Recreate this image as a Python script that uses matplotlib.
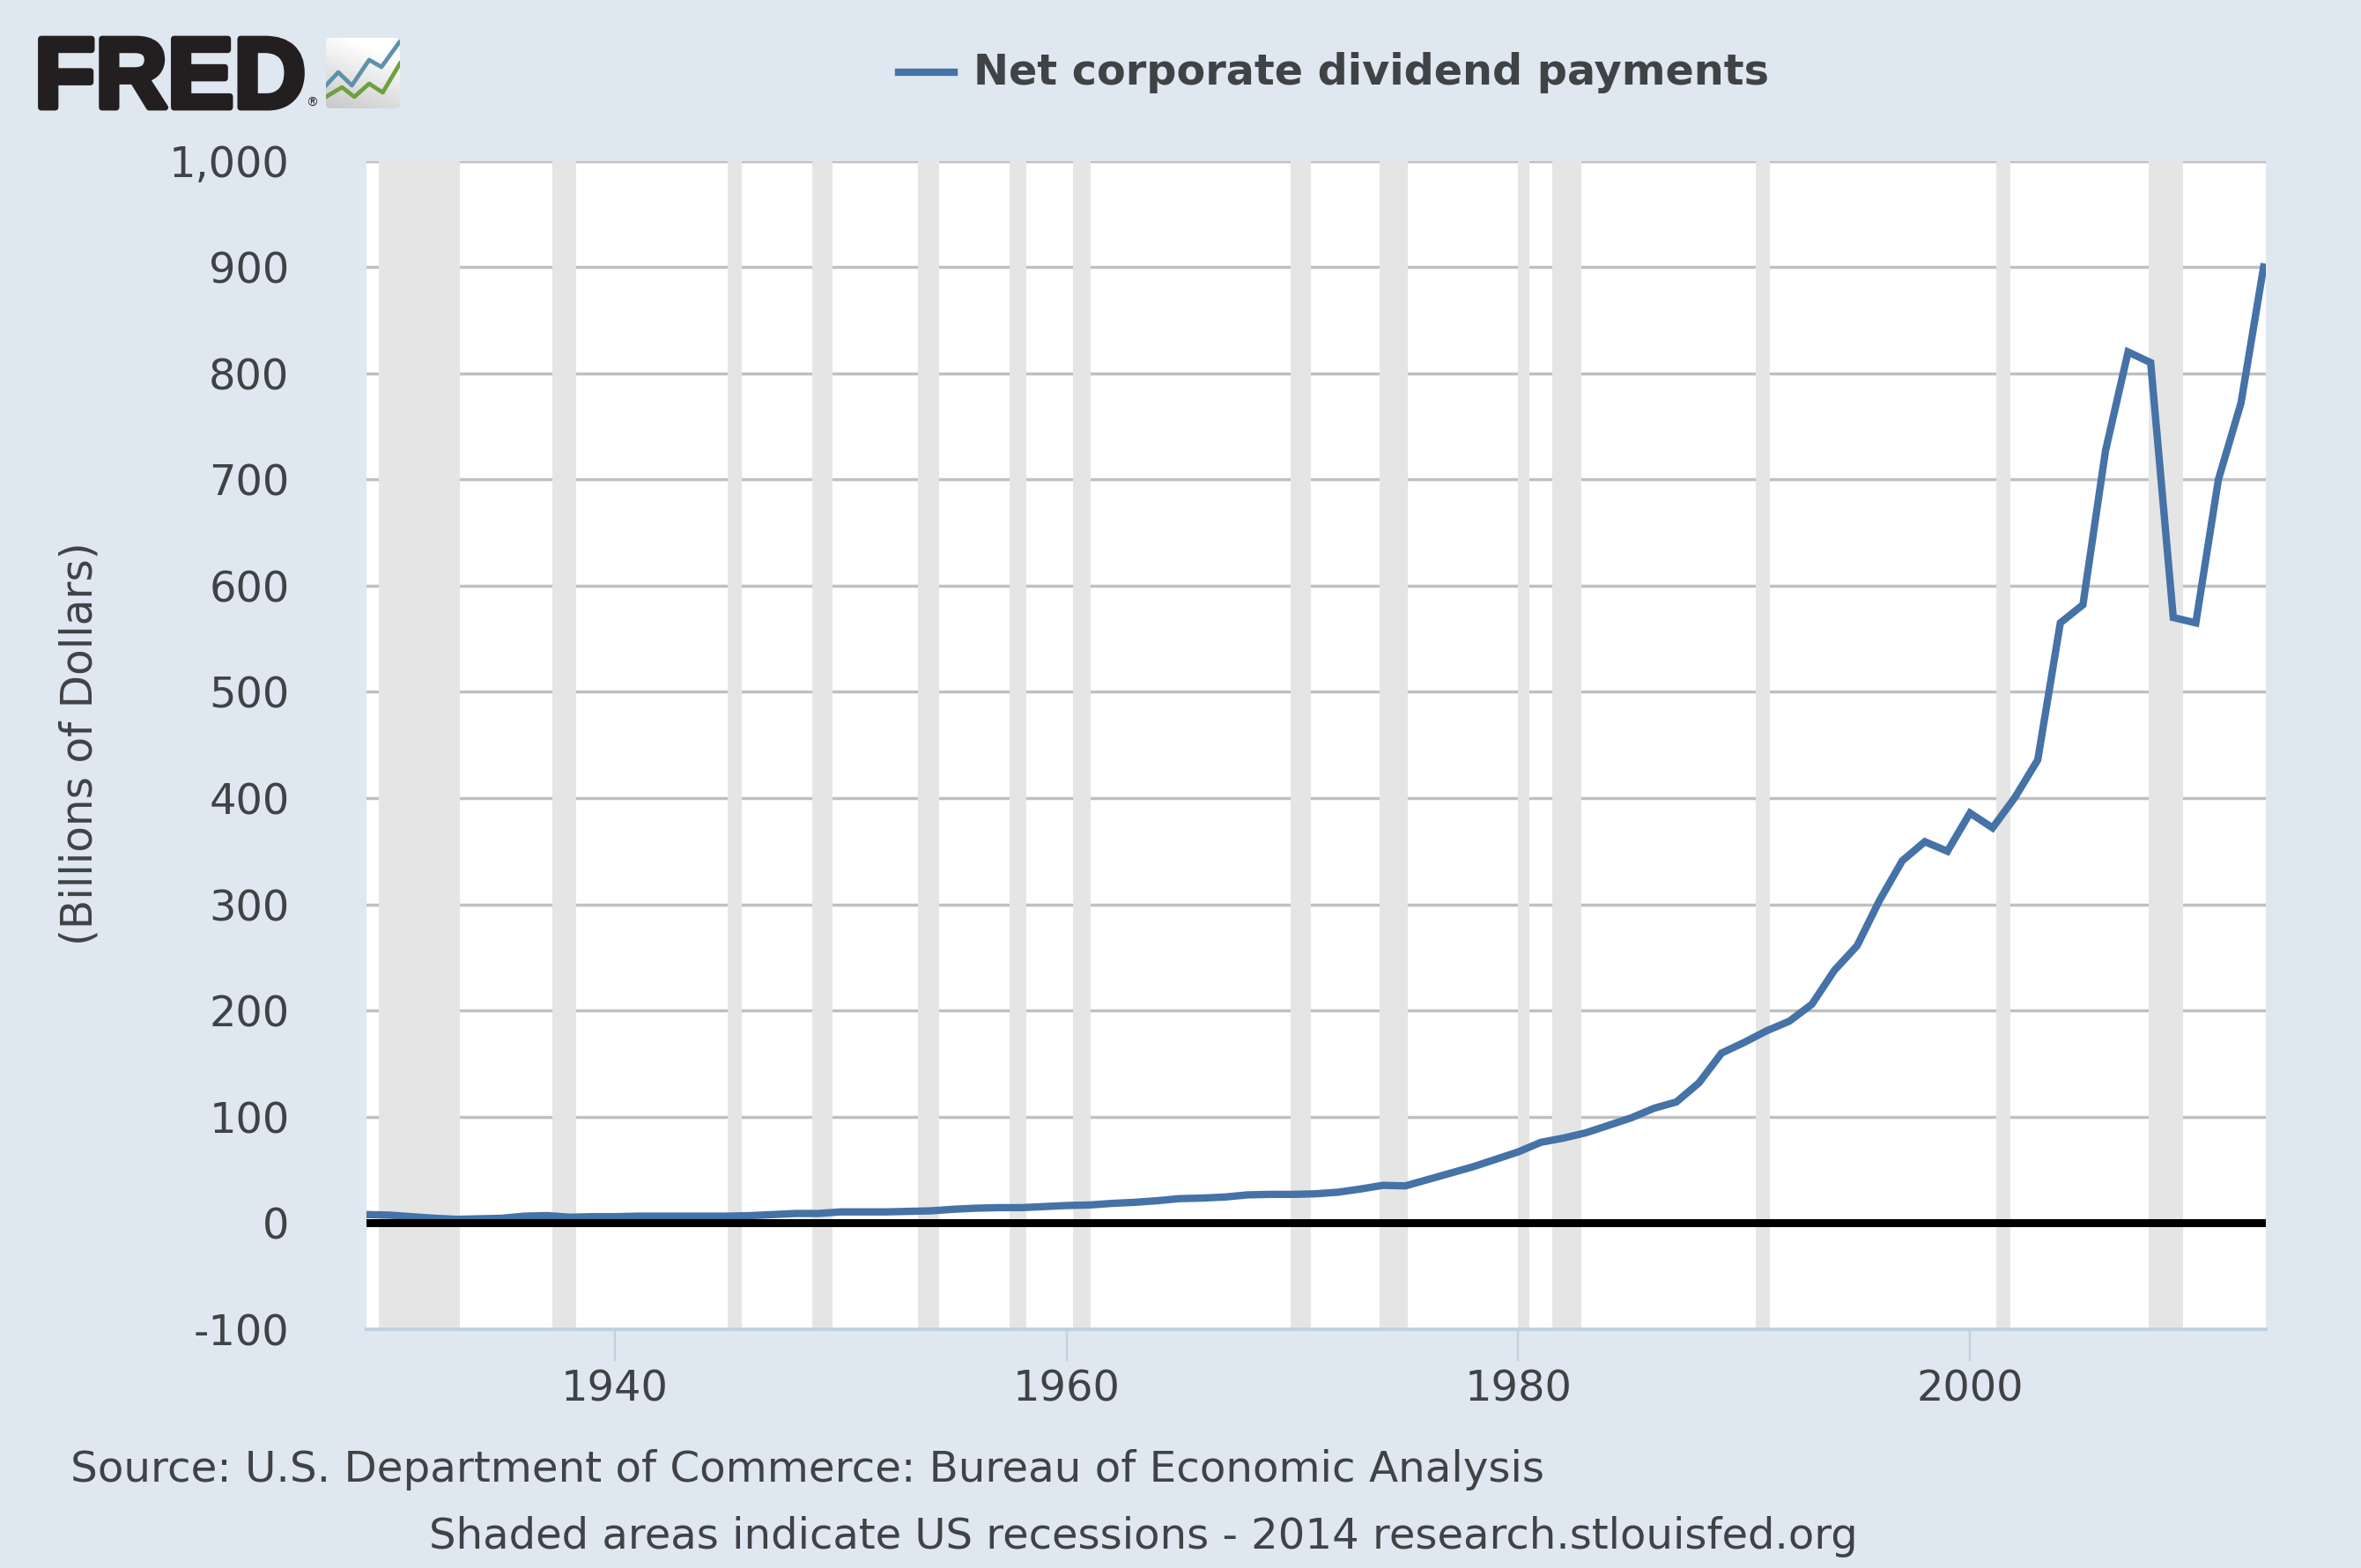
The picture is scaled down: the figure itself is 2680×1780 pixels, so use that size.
import matplotlib
matplotlib.use("Agg")
import matplotlib.pyplot as plt
import matplotlib.patheffects as pe
from matplotlib.patches import FancyBboxPatch
import numpy as np

# annual values (billions of dollars)
years = list(range(1929, 2014))
dividends = [8, 7.5, 6, 4.5, 3.5, 4, 4.5, 6.5, 7, 5.5,
             6, 6, 6.5, 6.5, 6.5, 6.5, 6.5, 7, 8, 9,
             9, 10.5, 10.5, 10.5, 11, 11.5, 13, 14, 14.5, 14.5,
             15.5, 16.5, 17, 18.5, 19.5, 21, 23, 23.5, 24.5, 26.5,
             27, 27, 27.5, 29, 32, 35.5, 35, 41, 47, 53,
             60, 67, 76, 80, 85, 92, 99, 108, 114, 132,
             160, 170, 181, 190, 206, 238, 261, 304, 341, 359,
             350, 386, 372, 401, 436, 565, 582, 727, 820, 810,
             570, 565, 700, 772, 900]

# recession start and end, as decimal years
rec_start = [1929.55, 1937.23, 1945.0, 1948.74, 1953.42, 1957.48, 1960.29,
             1969.93, 1973.85, 1980.0, 1981.5, 1990.5, 2001.18, 2007.9]
rec_end = [1933.14, 1938.29, 1945.62, 1949.64, 1954.36, 1958.22, 1961.07,
           1970.8, 1975.1, 1980.48, 1982.8, 1991.12, 2001.8, 2009.45]

y_ticks = [-100, 0, 100, 200, 300, 400, 500, 600, 700, 800, 900, 1000]
y_labels = ["-100", "0", "100", "200", "300", "400", "500", "600", "700", "800", "900", "1,000"]
x_ticks = [1940, 1960, 1980, 2000]

# shapes of the two lines in the logo icon
icon_blue_x = [0, 1, 2.1, 3.5, 4.5, 6]
icon_blue = [2.6, 4.1, 2.6, 5.5, 4.7, 7.6]
icon_green_x = [0, 1.3, 2.3, 3.5, 4.6, 6]
icon_green = [1.3, 2.4, 1.3, 2.8, 1.8, 5.1]

bg = "#dfe7f0"
text_col = "#404346"
W, H = 2680, 1780

fig = plt.figure(figsize=(26.8, 17.8), dpi=100, facecolor=bg)
left, right, top, bottom = 416, 2572, 182.5, 1509
ax = fig.add_axes([left / W, 1 - bottom / H, (right - left) / W, (bottom - top) / H])

for s, e in zip(rec_start, rec_end):
    ax.axvspan(s, e, color="#e5e5e5", lw=0, zorder=1)

ax.set_yticks(y_ticks)
ax.set_yticklabels(y_labels)
ax.grid(axis="y", color="#c0c0c0", lw=2.5, zorder=2)
ax.plot(years, dividends, color="#4572a7", lw=6, solid_joinstyle="miter", zorder=4)
ax.axhline(0, color="black", lw=6.5, zorder=5)

ax.set_xlim(1929, 2013.1)
ax.set_ylim(-100, 1000)
ax.set_xticks(x_ticks)
for side in ["left", "right", "top"]:
    ax.spines[side].set_visible(False)
ax.spines["bottom"].set_color("#c0d0e0")
ax.spines["bottom"].set_linewidth(2.8)
ax.tick_params(axis="y", length=0, pad=63, labelsize=34.5, labelcolor=text_col)
ax.tick_params(axis="x", length=26, width=1.6, color="#c0d0e0", pad=6, labelsize=34.5, labelcolor=text_col)
ax.set_axisbelow(True)

fig.text(91 / W, 1 - 844 / H, "(Billions of Dollars)", rotation=90, ha="center", va="center",
         fontsize=35, color=text_col)

# legend
fig.add_artist(plt.Line2D([1020 / W, 1083 / W], [1 - 82 / H, 1 - 82 / H], color="#4572a7", lw=6))
fig.text(1105 / W, 1 - 83 / H, "Net corporate dividend payments", ha="left", va="center",
         fontsize=34.4, fontweight="bold", color=text_col)

# footer
fig.text(80 / W, 1 - 1669 / H, "Source: U.S. Department of Commerce: Bureau of Economic Analysis",
         ha="left", va="center", fontsize=34.8, color=text_col)
fig.text(487 / W, 1 - 1744 / H, "Shaded areas indicate US recessions - 2014 research.stlouisfed.org",
         ha="left", va="center", fontsize=34.7, color=text_col)

# FRED logo
logo = fig.text(39 / W, 1 - 122 / H, "FRED", ha="left", va="baseline", fontsize=81.5,
                family="Liberation Sans", fontweight="bold", color="#231f20")
logo.set_path_effects([pe.withStroke(linewidth=5, foreground="#231f20")])
fig.text(354 / W, 1 - 117 / H, "®", ha="center", va="center", fontsize=10, color="#231f20")

icon = fig.add_axes([370 / W, 1 - 123 / H, 84 / W, 80 / H])
icon.set_xlim(0, 6)
icon.set_ylim(0, 8)
icon.axis("off")
box = FancyBboxPatch((0, 0), 6, 8, boxstyle="round,pad=0,rounding_size=0.4", transform=icon.transData,
                     facecolor="none", edgecolor="none")
icon.add_patch(box)
# white at the top left, grey towards the bottom right
gx, gy = np.meshgrid(np.linspace(0, 1, 64), np.linspace(0, 1, 64))
shade = np.clip(0.35 * gx + 0.9 * (1 - gy), 0, 1)
img = icon.imshow(shade, extent=[0, 6, 0, 8], aspect="auto", cmap="gray", vmin=-3.6, vmax=1.0,
                  origin="upper")
img.set_clip_path(box)
l1, = icon.plot(icon_blue_x, icon_blue, color="#5f90ad", lw=3.4)
l2, = icon.plot(icon_green_x, icon_green, color="#6fa03f", lw=3.4)
l1.set_clip_path(box)
l2.set_clip_path(box)
icon.set_xlim(0, 6)
icon.set_ylim(0, 8)

fig.savefig("out.png", dpi=100, facecolor=bg)
